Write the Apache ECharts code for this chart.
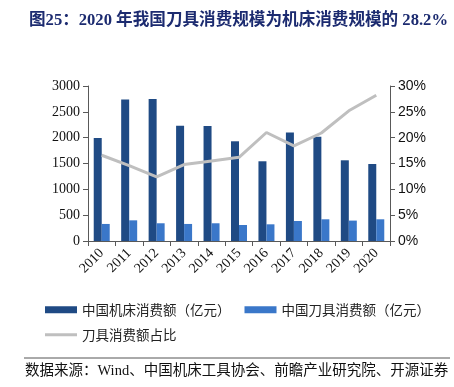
<!DOCTYPE html>
<html><head><meta charset="utf-8">
<script src="https://cdn.jsdelivr.net/npm/echarts@6/dist/echarts.min.js"></script>
<style>html,body{margin:0;padding:0;background:#fff}#c{width:454px;height:387px}</style>
</head><body><div id="c"></div>
<script>
const years = ['2010','2011','2012','2013','2014','2015','2016','2017','2018','2019','2020'];
const machineTool = [1995, 2740, 2750, 2232, 2226, 1930, 1543, 2098, 2020, 1562, 1490];
const cuttingTool = [330, 400, 343, 330, 343, 310, 323, 387, 420, 395, 420];
const toolShare = [16.6, 14.6, 12.4, 14.8, 15.5, 16.2, 21.0, 18.4, 20.9, 25.2, 28.2];
const leftTicks = [0, 500, 1000, 1500, 2000, 2500, 3000];
const rightTicks = [0, 5, 10, 15, 20, 25, 30];

const names = ['中国机床消费额（亿元）','中国刀具消费额（亿元）','刀具消费额占比'];
const serif = '"Liberation Serif","Times New Roman",serif';
const cjk = '"Noto Sans CJK SC",sans-serif';
const chart = echarts.init(document.getElementById('c'));
chart.setOption({
  animation:false,
  backgroundColor:'#fff',
  title:{text:'图25：2020 年我国刀具消费规模为机床消费规模的 28.2%',left:24,top:7,
    textStyle:{fontFamily:'"Liberation Serif","Noto Sans CJK SC",serif',fontWeight:'bold',fontSize:16.6,color:'#1C2B70'}},
  legend:[
    {data:[names[0],names[1]],left:40,top:298,itemWidth:32,itemHeight:7,itemGap:14,icon:'rect',
     textStyle:{fontFamily:cjk,fontSize:13.5,color:'#222'}},
    {data:[names[2]],left:40,top:323,itemWidth:32,itemHeight:3,icon:'rect',
     textStyle:{fontFamily:cjk,fontSize:13.5,color:'#222'}}
  ],
  grid:{left:88,right:64,top:86,bottom:146},
  xAxis:{type:'category',data:years,
    axisLine:{lineStyle:{color:'#595959',width:1}},
    axisTick:{show:true,alignWithLabel:false,length:5,lineStyle:{color:'#595959'}},
    axisLabel:{rotate:45,fontFamily:serif,fontSize:14,color:'#111',margin:10}},
  yAxis:[
    {type:'value',min:0,max:3000,interval:500,
     axisLine:{show:true,lineStyle:{color:'#595959'}},
     axisTick:{show:true,length:5,lineStyle:{color:'#595959'}},
     splitLine:{show:false},
     axisLabel:{formatter:v=>String(v),fontFamily:serif,fontSize:14,color:'#111',margin:8}},
    {type:'value',min:0,max:30,interval:5,position:'right',
     axisLine:{show:true,lineStyle:{color:'#595959'}},
     axisTick:{show:true,length:5,lineStyle:{color:'#595959'}},
     splitLine:{show:false},
     axisLabel:{formatter:'{value}%',fontFamily:'"Liberation Sans","Open Sans",sans-serif',fontSize:14,color:'#111',margin:8}}
  ],
  series:[
    {name:names[0],type:'bar',data:machineTool,barWidth:8,barGap:'0%',
     itemStyle:{color:'#1F4A84'}},
    {name:names[1],type:'bar',data:cuttingTool,barWidth:8,
     itemStyle:{color:'#3A77C9'}},
    {name:names[2],type:'line',yAxisIndex:1,data:toolShare,symbol:'none',
     lineStyle:{color:'#BFBFBF',width:3},itemStyle:{color:'#BFBFBF'}}
  ],
  graphic:[
    {type:'line',shape:{x1:24,y1:358,x2:450,y2:358},style:{stroke:'#555',lineWidth:1}},
    {type:'text',left:25,top:364,style:{text:'数据来源：Wind、中国机床工具协会、前瞻产业研究院、开源证券',
      fontFamily:'"Liberation Serif","Noto Sans CJK SC",serif',fontSize:14.5,fill:'#111'}}
  ]
});
</script></body></html>
